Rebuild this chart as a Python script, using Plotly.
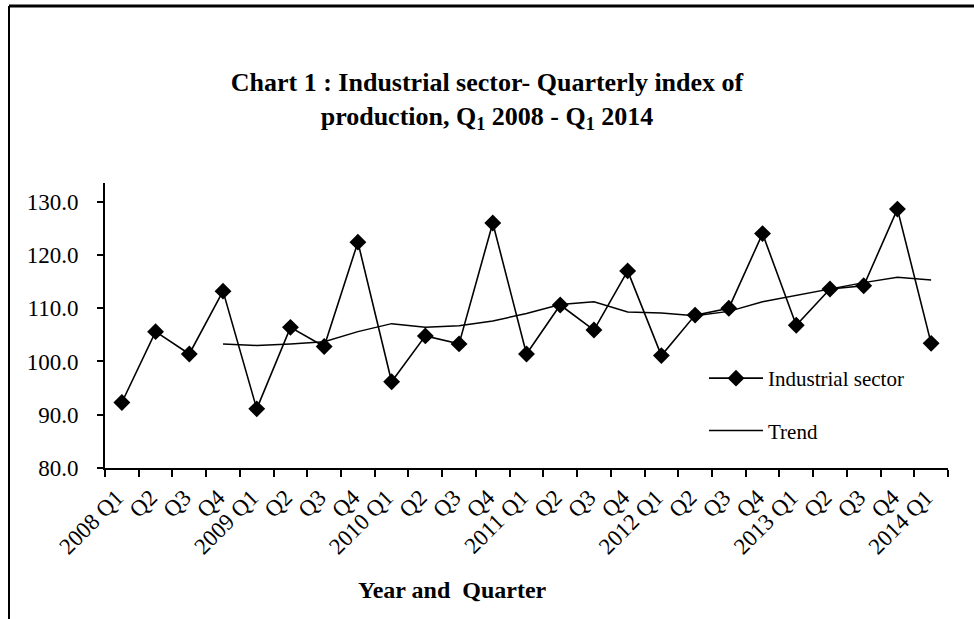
import plotly.graph_objects as go

quarters = []
for yr in range(2008, 2015):
    for q in range(1, 5):
        if yr == 2014 and q > 1:
            break
        quarters.append(f"{yr} Q{q}")

tick_labels = [s if s.endswith("Q1") else s.split()[1] for s in quarters]

industrial = [92.3, 105.6, 101.4, 113.2, 91.1, 106.4, 102.8, 122.4, 96.2, 104.8,
              103.3, 126.0, 101.4, 110.6, 105.9, 117.0, 101.1, 108.7, 110.0, 124.0,
              106.8, 113.6, 114.2, 128.6, 103.4]

trend_quarters = quarters[3:]
trend = [103.3, 103.0, 103.3, 103.7, 105.6, 107.1, 106.4, 106.7, 107.6, 109.0,
         110.7, 111.2, 109.3, 109.1, 108.6, 109.4, 111.2, 112.4, 113.6, 114.8,
         115.8, 115.3]

FONT = "Liberation Serif"

fig = go.Figure()
fig.add_trace(go.Scatter(
    x=quarters, y=industrial, name="Industrial sector", mode="lines+markers",
    line=dict(color="black", width=1.6),
    marker=dict(symbol="diamond", size=13, color="black"),
    legendgroup="a"))
fig.add_trace(go.Scatter(
    x=trend_quarters, y=trend, name="Trend", mode="lines",
    line=dict(color="black", width=1.5),
    legendgroup="b"))

L, R, T, B = 105, 26, 183, 151
W, H = 974, 619
pw, ph = W - L - R, H - T - B

def px(x):
    return (x - L) / pw

def py(y):
    return (H - B - y) / ph

fig.update_layout(
    width=W, height=H,
    margin=dict(l=L, r=R, t=T, b=B, autoexpand=False),
    paper_bgcolor="white", plot_bgcolor="white",
    font=dict(family=FONT, color="black", size=20),
    title=dict(
        text="<b>Chart 1 : Industrial sector- Quarterly index of<br>"
             "production, Q<sub>1</sub> 2008 - Q<sub>1</sub> 2014</b>",
        x=0.5, xanchor="center", y=1 - 91 / H, yanchor="middle",
        font=dict(family=FONT, size=26, color="black")),
    showlegend=True,
    legend=dict(x=px(704), y=py(358), xanchor="left", yanchor="top",
                bgcolor="rgba(0,0,0,0)", font=dict(family=FONT, size=21),
                itemwidth=54,
                traceorder="grouped", tracegroupgap=22),
    xaxis=dict(
        type="category", categoryorder="array", categoryarray=quarters,
        range=[-0.5, len(quarters) - 0.5],
        tickmode="array", tickvals=quarters, ticktext=tick_labels,
        tickangle=-45, tickson="boundaries", ticks="outside", ticklen=7,
        tickwidth=2, tickcolor="black", showline=True, linecolor="black",
        linewidth=2, showgrid=False, zeroline=False, automargin=False,
        ticklabelshift=-5, ticklabelstandoff=5,
        tickfont=dict(family=FONT, size=23)),
    yaxis=dict(
        range=[80, 133.5], tickmode="array", tickvals=[80, 90, 100, 110, 120, 130],
        tickformat=".1f", ticks="outside", ticklen=6, tickwidth=2,
        ticklabelstandoff=14, automargin=False,
        tickcolor="black", showline=True, linecolor="black", linewidth=2,
        showgrid=False, zeroline=False, tickfont=dict(family=FONT, size=23)),
    annotations=[
        dict(text="<b>Year and  Quarter</b>", xref="paper", yref="paper",
             x=px(452), y=py(590), xanchor="center", yanchor="middle",
             showarrow=False, font=dict(family=FONT, size=24, color="black")),
    ],
    shapes=[
        dict(type="line", xref="paper", yref="paper", x0=px(9), x1=px(980),
             y0=py(6), y1=py(6), line=dict(color="black", width=3)),
        dict(type="line", xref="paper", yref="paper", x0=px(9), x1=px(9),
             y0=py(6), y1=py(625), line=dict(color="black", width=2)),
    ],
)

fig.write_html("out.html",
               config={"displayModeBar": False},
               post_script="document.body.style.margin='0px';")
